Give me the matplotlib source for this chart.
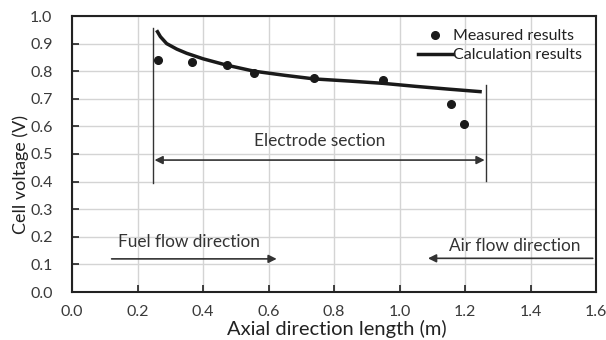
import matplotlib
matplotlib.use("Agg")
import matplotlib.pyplot as plt

plt.rcParams['font.family'] = ['Lato', 'DejaVu Sans']

meas_x = [0.263, 0.365, 0.472, 0.556, 0.739, 0.951, 1.157, 1.197]
meas_y = [0.840, 0.832, 0.822, 0.795, 0.776, 0.767, 0.680, 0.609]

calc_x = [0.261, 0.270, 0.289, 0.320, 0.350, 0.400, 0.472, 0.556, 0.650, 0.740, 0.850, 0.950, 1.050, 1.150, 1.246]
calc_y = [0.943, 0.925, 0.900, 0.880, 0.865, 0.845, 0.822, 0.800, 0.785, 0.772, 0.764, 0.756, 0.745, 0.735, 0.726]

x_ticks = [0.0, 0.2, 0.4, 0.6, 0.8, 1.0, 1.2, 1.4, 1.6]
y_ticks = [0.0, 0.1, 0.2, 0.3, 0.4, 0.5, 0.6, 0.7, 0.8, 0.9, 1.0]

fig = plt.figure(figsize=(6.06, 3.40), dpi=100)
ax = fig.add_axes([72/606, 1-292/340, 524/606, 276/340])

ax.set_xlim(0, 1.6)
ax.set_ylim(0, 1.0)
ax.set_xticks(x_ticks)
ax.set_yticks(y_ticks)
ax.set_xticklabels([f"{v:.1f}" for v in x_ticks])
ax.set_yticklabels([f"{v:.1f}" for v in y_ticks])
ax.grid(True, color='#d4d4d4', lw=1.0)
ax.set_axisbelow(True)
ax.tick_params(direction='in', length=5, width=1.2, labelsize=11.5, colors='#222222', labelcolor='#3a3a3a')
ax.tick_params(axis='x', pad=9)
ax.tick_params(axis='y', pad=14)
for s in ax.spines.values():
    s.set_linewidth(1.5)
    s.set_color('#222222')

ax.plot(calc_x, calc_y, color='#1a1a1a', lw=2.5, label='Calculation results', zorder=3)
ax.plot(meas_x, meas_y, 'o', color='#1a1a1a', ms=5.5, label='Measured results', zorder=4)

# vertical boundary lines
ax.plot([0.246, 0.246], [0.394, 0.955], color='#333333', lw=1.0)
ax.plot([1.264, 1.264], [0.403, 0.750], color='#333333', lw=1.0)

txt_col = '#333333'
arrow_kw = dict(color='#333333', lw=1.2, shrinkA=0, shrinkB=0)
ax.annotate('', xy=(0.252, 0.478), xytext=(1.26, 0.478),
            arrowprops=dict(arrowstyle='<|-|>', mutation_scale=12, **arrow_kw))
ax.text(0.757, 0.548, 'Electrode section', ha='center', va='center', fontsize=12.4, color=txt_col)

ax.annotate('', xy=(0.625, 0.12), xytext=(0.121, 0.12),
            arrowprops=dict(arrowstyle='-|>', mutation_scale=12, **arrow_kw))
ax.text(0.356, 0.182, 'Fuel flow direction', ha='center', va='center', fontsize=12.4, color=txt_col)

ax.annotate('', xy=(1.087, 0.122), xytext=(1.59, 0.122),
            arrowprops=dict(arrowstyle='-|>', mutation_scale=12, **arrow_kw))
ax.text(1.353, 0.168, 'Air flow direction', ha='center', va='center', fontsize=12.4, color=txt_col)

handles, labels = ax.get_legend_handles_labels()
leg = ax.legend(handles[::-1], labels[::-1], loc='upper right', frameon=False, fontsize=11.5,
                handlelength=2.2, handletextpad=0.0, bbox_to_anchor=(0.985, 0.975),
                borderaxespad=0.0, labelspacing=0.3)
for t in leg.get_texts():
    t.set_color('#222222')

ax.set_ylabel('Cell voltage (V)', fontsize=12.9, color='#222222')
ax.yaxis.set_label_coords(-0.083, 0.426)
ax.set_xlabel('Axial direction length (m)', fontsize=14.5, color='#222222')
ax.xaxis.set_label_coords(0.506, -0.102)

fig.savefig('out.png', dpi=100)
